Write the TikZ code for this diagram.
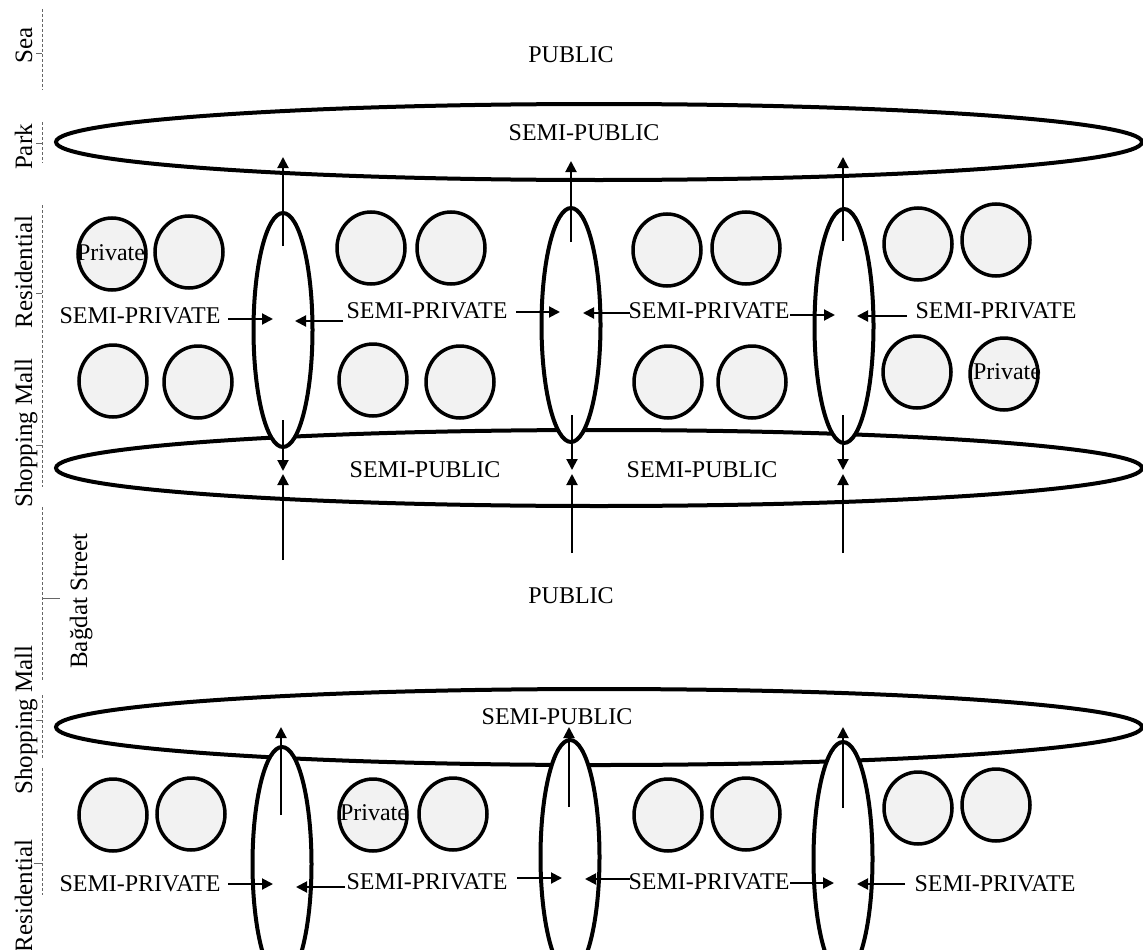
\documentclass[tikz,border=0pt]{standalone}
\usepackage{fontspec}
\setmainfont{Liberation Serif}
\usetikzlibrary{shapes.geometric,arrows.meta}
\begin{document}
\begin{tikzpicture}[x=1pt,y=-1pt,
  every node/.style={font=\fontsize{24}{28}\selectfont, inner sep=0pt},
  zone/.style={ellipse, draw, line width=4pt, minimum width=1086pt, minimum height=76pt},
  lane/.style={ellipse, draw, fill=white, line width=4pt, minimum width=59pt, minimum height=234pt},
  home/.style={ellipse, draw, fill=black!5, line width=3.5pt, minimum width=68pt, minimum height=72pt},
  flow/.style={line width=2pt, -{Triangle[length=11pt,width=11pt]}},
  guide/.style={black!60, line width=0.9pt, dash pattern=on 3pt off 2pt},
  tickln/.style={black!60, line width=0.9pt},
  sidelbl/.style={rotate=90, anchor=base, font=\fontsize{25}{29}\selectfont},
]
\useasboundingbox (0,0) rectangle (1143,950);

% big zones
\node[zone] (park) at (599,142) {};
\node[zone] (mall1) at (599,468) {};
\node[zone] (mall2) at (599,727) {};

% lanes
\node[lane] (l1) at (283,330) {};
\node[lane] (l2) at (571,325) {};
\node[lane] (l3) at (844,326) {};
\node[lane] (b1) at (282,864) {};
\node[lane] (b2) at (570,857) {};
\node[lane] (b3) at (843,859) {};

% homes
\foreach \n/\x/\y in {a1/112/254, a2/189/252, a3/371/248, a4/451/248, a5/667/250, a6/746/248, a7/918/244, a8/996/240,
  c1/113/381, c2/198/382, c3/373/380, c4/460/382, c5/668/382, c6/752/382, c7/917/372, c8/1004/374,
  d1/113/815, d2/191/814, d3/373/815, d4/453/814, d5/668/815, d6/746/814, d7/918/808, d8/996/805}
  \node[home] (\n) at (\x,\y) {};

\node (pa1) at (111,253) {Private};
\node (pc8) at (1007,372) {Private};
\node (pd3) at (374,813) {Private};

% zone texts
\node (pub1) at (571,55) {PUBLIC};
\node (sp1) at (584,133) {SEMI-PUBLIC};
\node (sp2) at (425,470) {SEMI-PUBLIC};
\node (sp3) at (702,470) {SEMI-PUBLIC};
\node (pub2) at (571,596) {PUBLIC};
\node (sp4) at (557,717) {SEMI-PUBLIC};

\node (sv1) at (140,316) {SEMI-PRIVATE};
\node (sv2) at (427,311) {SEMI-PRIVATE};
\node (sv3) at (709,311) {SEMI-PRIVATE};
\node (sv4) at (996,311) {SEMI-PRIVATE};
\node (sw1) at (140,884) {SEMI-PRIVATE};
\node (sw2) at (427,882) {SEMI-PRIVATE};
\node (sw3) at (709,882) {SEMI-PRIVATE};
\node (sw4) at (995,884) {SEMI-PRIVATE};

% vertical flows, upper part
\coordinate (u1s) at (283,246); \coordinate (u1e) at (283,157);
\coordinate (u2s) at (571,242); \coordinate (u2e) at (571,161);
\coordinate (u3s) at (843,241); \coordinate (u3e) at (843,157);
\draw[flow] (u1s) -- (u1e);
\draw[flow] (u2s) -- (u2e);
\draw[flow] (u3s) -- (u3e);

\coordinate (m1s) at (283,420); \coordinate (m1e) at (283,471);
\coordinate (m2s) at (572,415); \coordinate (m2e) at (572,470);
\coordinate (m3s) at (843,415); \coordinate (m3e) at (843,470);
\coordinate (n1s) at (283,560); \coordinate (n1e) at (283,474);
\coordinate (n2s) at (572,553); \coordinate (n2e) at (572,474);
\coordinate (n3s) at (843,553); \coordinate (n3e) at (843,474);
\draw[flow] (m1s) -- (m1e);
\draw[flow] (m2s) -- (m2e);
\draw[flow] (m3s) -- (m3e);
\draw[flow] (n1s) -- (n1e);
\draw[flow] (n2s) -- (n2e);
\draw[flow] (n3s) -- (n3e);

% vertical flows, lower part
\coordinate (v1s) at (281,815); \coordinate (v1e) at (281,727);
\coordinate (v2s) at (569,807); \coordinate (v2e) at (569,727);
\coordinate (v3s) at (843,808); \coordinate (v3e) at (843,727);
\draw[flow] (v1s) -- (v1e);
\draw[flow] (v2s) -- (v2e);
\draw[flow] (v3s) -- (v3e);

% horizontal flows, upper row
\coordinate (h1s) at (228,319); \coordinate (h1e) at (273,319);
\coordinate (h2s) at (343,321); \coordinate (h2e) at (295,321);
\coordinate (h3s) at (516,312); \coordinate (h3e) at (560,312);
\coordinate (h4s) at (630,313); \coordinate (h4e) at (583,313);
\coordinate (h5s) at (790,315); \coordinate (h5e) at (835,315);
\coordinate (h6s) at (907,316); \coordinate (h6e) at (857,316);
\foreach \k in {1,...,6} \draw[flow] (h\k s) -- (h\k e);

% horizontal flows, lower row
\coordinate (g1s) at (228,884); \coordinate (g1e) at (273,884);
\coordinate (g2s) at (345,887); \coordinate (g2e) at (296,887);
\coordinate (g3s) at (517,878); \coordinate (g3e) at (562,878);
\coordinate (g4s) at (630,879); \coordinate (g4e) at (585,879);
\coordinate (g5s) at (790,883); \coordinate (g5e) at (834,883);
\coordinate (g6s) at (905,884); \coordinate (g6e) at (857,884);
\foreach \k in {1,...,6} \draw[flow] (g\k s) -- (g\k e);

% side guides
\draw[guide] (42,9) -- (42,90);   \draw[tickln] (36,53) -- (42,53);
\draw[guide] (42,122) -- (42,163); \draw[tickln] (36,143) -- (42,143);
\draw[guide] (42,205) -- (42,387); \draw[tickln] (36,293) -- (42,293);
\draw[guide] (42,390) -- (42,487); \draw[tickln] (36,445) -- (42,445);
\draw[guide] (42,507) -- (42,680); \draw[tickln] (42,598) -- (60,598);
\draw[guide] (42,695) -- (42,758); \draw[tickln] (36,720) -- (42,720);
\draw[guide] (42,768) -- (42,895); \draw[tickln] (34,863) -- (42,863);

\node[sidelbl] (tsea) at (32,45) {Sea};
\node[sidelbl] (tpark) at (32,147) {Park};
\node[sidelbl] (tres1) at (32,272) {Residential};
\node[sidelbl] (tmall1) at (32,433) {Shopping Mall};
\node[sidelbl] (tstreet) at (87,601) {Bağdat Street};
\node[sidelbl] (tmall2) at (32,720) {Shopping Mall};
\node[sidelbl] (tres2) at (32,896) {Residential};
\end{tikzpicture}
\end{document}
